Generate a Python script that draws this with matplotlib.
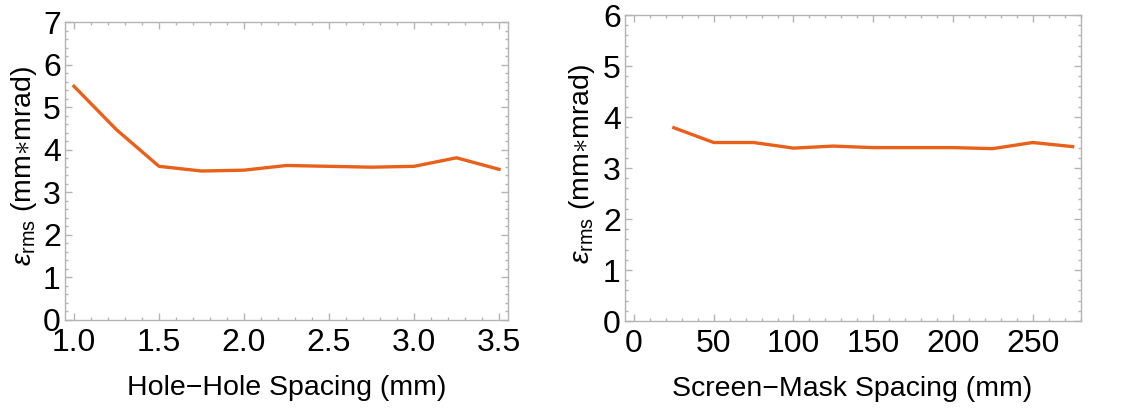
import matplotlib
matplotlib.use("Agg")
import matplotlib.pyplot as plt
from matplotlib.ticker import MultipleLocator, FormatStrFormatter

# emittance vs hole-hole spacing
hole_spacing = [1.0, 1.25, 1.5, 1.75, 2.0, 2.25, 2.5, 2.75, 3.0, 3.25, 3.5]
emit_hole = [5.49, 4.47, 3.61, 3.50, 3.52, 3.63, 3.61, 3.59, 3.61, 3.81, 3.54]

# emittance vs screen-mask spacing
mask_spacing = [25, 50, 75, 100, 125, 150, 175, 200, 225, 250, 275]
emit_mask = [3.79, 3.50, 3.50, 3.39, 3.43, 3.40, 3.40, 3.40, 3.38, 3.50, 3.42]

line_color = "#e8601a"
frame_color = "#b4b4b4"

plt.rcParams["font.family"] = ["Liberation Sans", "DejaVu Sans"]
plt.rcParams["mathtext.fontset"] = "custom"
plt.rcParams["mathtext.rm"] = "Liberation Sans"
plt.rcParams["mathtext.it"] = "Liberation Sans:italic"

ylab = r"$\varepsilon_{\mathrm{rms}}$ (mm$\ast$mrad)"

fig = plt.figure(figsize=(11.27, 4.08), dpi=100)
ax1 = fig.add_axes([0.0577, 0.2157, 0.3931, 0.7303])
ax2 = fig.add_axes([0.5546, 0.2132, 0.4046, 0.7500])


def style(ax, xmaj, xmin_, ymaj, ymin_):
    for s in ax.spines.values():
        s.set_color(frame_color)
        s.set_linewidth(1.0)
    ax.xaxis.set_major_locator(MultipleLocator(xmaj))
    ax.xaxis.set_minor_locator(MultipleLocator(xmin_))
    ax.yaxis.set_major_locator(MultipleLocator(ymaj))
    ax.yaxis.set_minor_locator(MultipleLocator(ymin_))
    ax.tick_params(which="both", direction="in", top=True, right=True,
                   color=frame_color, width=1.0, labelsize=23)
    ax.tick_params(which="major", length=5)
    ax.tick_params(which="minor", length=2.5)
    ax.tick_params(axis="x", pad=6)
    ax.tick_params(axis="y", pad=3)


ax1.plot(hole_spacing, emit_hole, color=line_color, lw=2.4)
ax1.set_xlim(0.947, 3.553)
ax1.set_ylim(0, 7)
style(ax1, 0.5, 0.1, 1, 0.2)
ax1.xaxis.set_major_formatter(FormatStrFormatter("%.1f"))
ax1.set_xlabel("Hole\u2212Hole Spacing (mm)", fontsize=20.5)
ax1.set_ylabel(ylab, fontsize=20.5)
ax1.xaxis.set_label_coords(0.50, -0.185)
ax1.yaxis.set_label_coords(-0.058, 0.517)

ax2.plot(mask_spacing, emit_mask, color=line_color, lw=2.4)
ax2.set_xlim(-5.6, 280.3)
ax2.set_ylim(0, 6)
style(ax2, 50, 10, 1, 0.2)
ax2.set_xlabel("Screen\u2212Mask Spacing (mm)", fontsize=20.5)
ax2.set_ylabel(ylab, fontsize=20.5)
ax2.xaxis.set_label_coords(0.499, -0.179)
ax2.yaxis.set_label_coords(-0.061, 0.513)

fig.savefig("out.png", dpi=100)
